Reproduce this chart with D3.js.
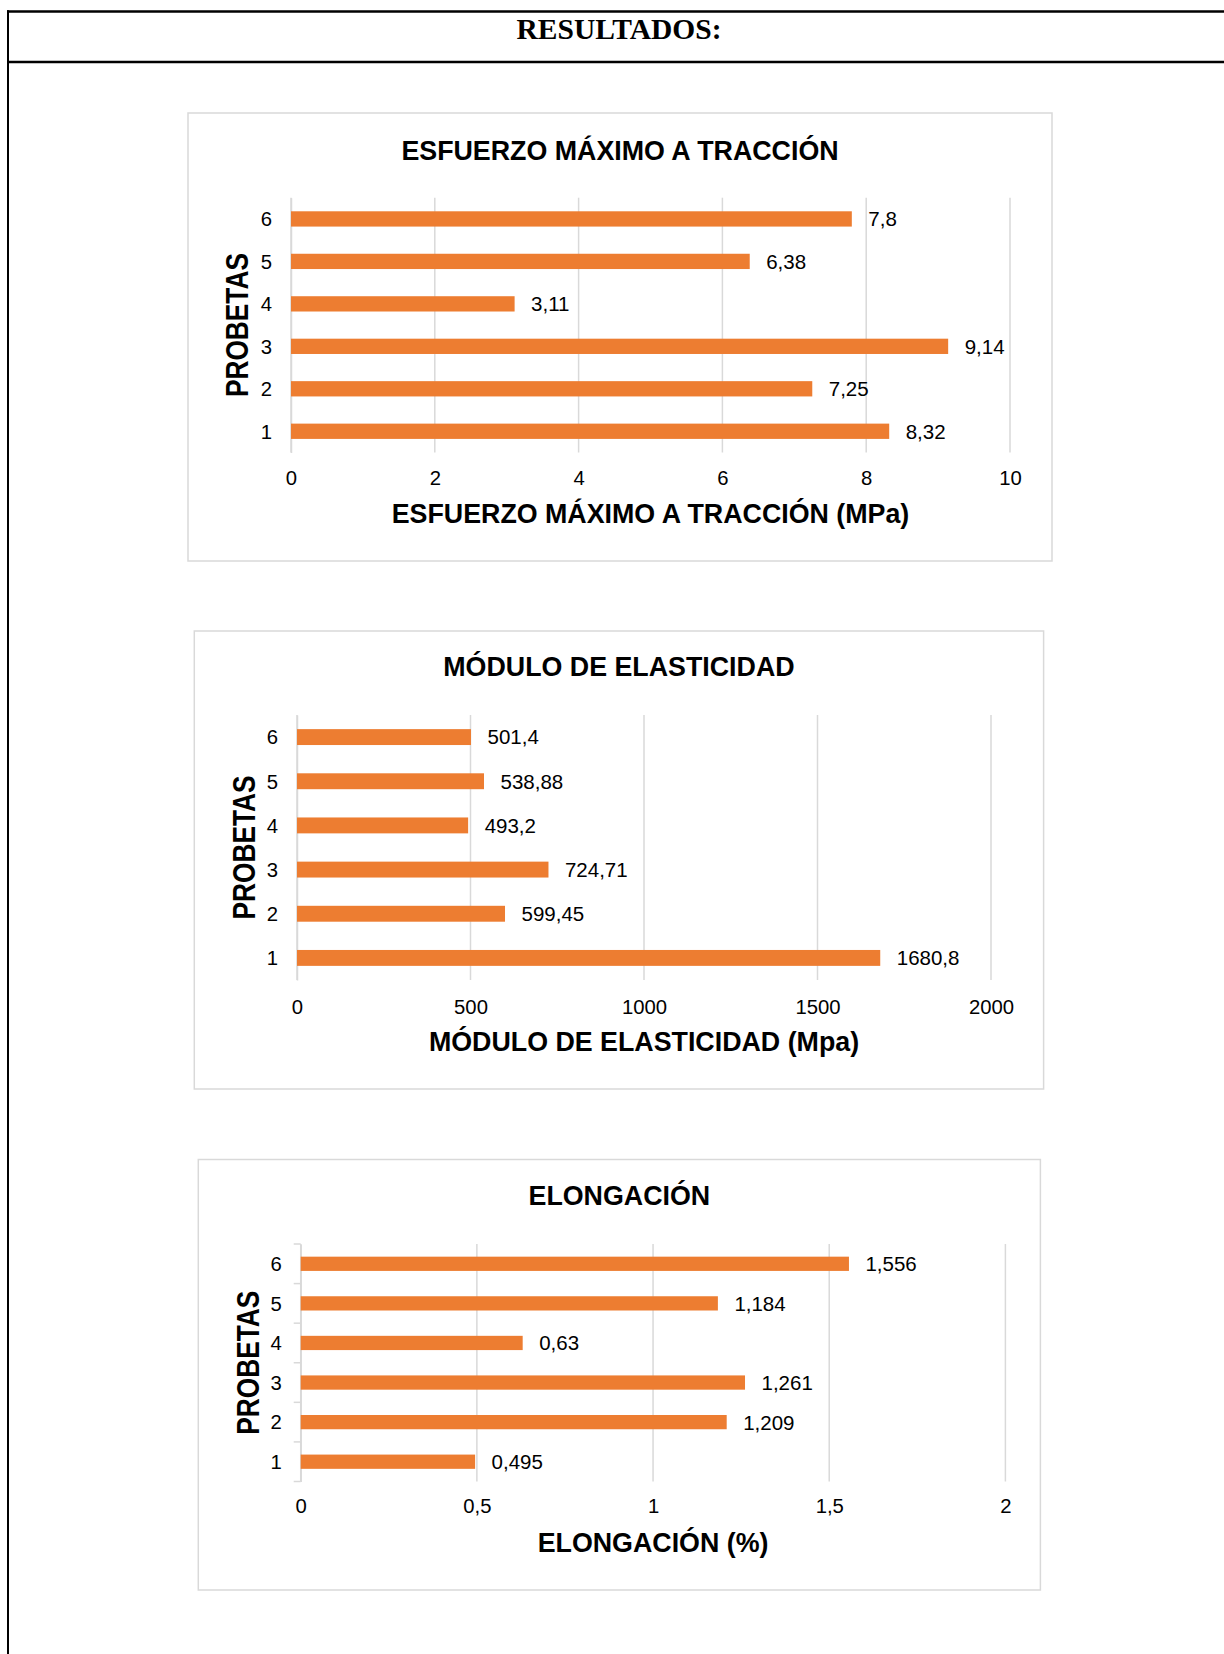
<!DOCTYPE html>
<html>
<head>
<meta charset="utf-8">
<script src="https://cdnjs.cloudflare.com/ajax/libs/d3/7.8.5/d3.min.js"></script>
<style>
  html, body { margin: 0; padding: 0; background: #ffffff; }
  svg { display: block; }
</style>
</head>
<body>
<script>
// ---------------- DATA ----------------
const categories = ["1", "2", "3", "4", "5", "6"];
const esfuerzoValues = [8.32, 7.25, 9.14, 3.11, 6.38, 7.8];
const moduloValues = [1680.8, 599.45, 724.71, 493.2, 538.88, 501.4];
const elongacionValues = [0.495, 1.209, 1.261, 0.63, 1.184, 1.556];
const esfuerzoTicks = [0, 2, 4, 6, 8, 10];
const moduloTicks = [0, 500, 1000, 1500, 2000];
const elongacionTicks = [0, 0.5, 1, 1.5, 2];
const headerText = "RESULTADOS:";
const chartTitles = ["ESFUERZO MÁXIMO A TRACCIÓN", "MÓDULO DE ELASTICIDAD", "ELONGACIÓN"];
const xAxisTitles = ["ESFUERZO MÁXIMO A TRACCIÓN (MPa)", "MÓDULO DE ELASTICIDAD (Mpa)", "ELONGACIÓN (%)"];
const yAxisTitle = "PROBETAS";

// ---------------- LAYOUT ----------------
const W = 1224, H = 1654;
const orange = "#ED7D31";
const gridColor = "#d9d9d9";
const sans = "'Liberation Sans', Arial, sans-serif";
const serif = "'Liberation Serif', 'Times New Roman', serif";
const fmt = v => String(v).replace(".", ",");

const charts = [
  { values: esfuerzoValues, ticks: esfuerzoTicks, title: chartTitles[0], xTitle: xAxisTitles[0],
    box: [188, 113, 1052, 561], plotX: [291, 1010], plotY: [197.7, 452.5],
    titleY: 150, tickY: 478, xTitleY: 513, yTitleX: 236.7, axisTicks: false },
  { values: moduloValues, ticks: moduloTicks, title: chartTitles[1], xTitle: xAxisTitles[1],
    box: [194.3, 631, 1043.6, 1089], plotX: [297, 991], plotY: [715, 980],
    titleY: 666.7, tickY: 1006.7, xTitleY: 1041.7, yTitleX: 244, axisTicks: false },
  { values: elongacionValues, ticks: elongacionTicks, title: chartTitles[2], xTitle: xAxisTitles[2],
    box: [198.3, 1159.5, 1040.4, 1590], plotX: [300.7, 1005.4], plotY: [1244, 1481.5],
    titleY: 1195.7, tickY: 1506, xTitleY: 1542.7, yTitleX: 248, axisTicks: true }
];

const svg = d3.select("body").append("svg")
  .attr("width", W).attr("height", H)
  .attr("viewBox", `0 0 ${W} ${H}`);

svg.append("rect").attr("width", W).attr("height", H).attr("fill", "#fff");

// ---------------- PAGE FRAME ----------------
svg.append("line").attr("x1", 8).attr("x2", 8).attr("y1", 10.3).attr("y2", H)
  .attr("stroke", "#000").attr("stroke-width", 2);
svg.append("line").attr("x1", 7).attr("x2", W).attr("y1", 11.5).attr("y2", 11.5)
  .attr("stroke", "#000").attr("stroke-width", 2.5);
svg.append("line").attr("x1", 7).attr("x2", W).attr("y1", 62).attr("y2", 62)
  .attr("stroke", "#000").attr("stroke-width", 2.5);
svg.append("text").attr("x", 619).attr("y", 38.5)
  .attr("text-anchor", "middle")
  .attr("font-family", serif).attr("font-weight", "bold").attr("font-size", 29.5)
  .attr("fill", "#000").text(headerText);

// ---------------- CHARTS ----------------
charts.forEach(c => {
  const g = svg.append("g");
  const [bx0, by0, bx1, by1] = c.box;
  g.append("rect").attr("x", bx0).attr("y", by0)
    .attr("width", bx1 - bx0).attr("height", by1 - by0)
    .attr("fill", "#fff").attr("stroke", gridColor).attr("stroke-width", 1.5);

  const x = d3.scaleLinear()
    .domain([c.ticks[0], c.ticks[c.ticks.length - 1]])
    .range(c.plotX);
  const y = d3.scaleBand()
    .domain(categories.slice().reverse())
    .range(c.plotY)
    .paddingInner(0.64).paddingOuter(0.32);

  // gridlines
  g.append("g").selectAll("line").data(c.ticks).join("line")
    .attr("x1", d => x(d)).attr("x2", d => x(d))
    .attr("y1", c.plotY[0]).attr("y2", c.plotY[1])
    .attr("stroke", gridColor).attr("stroke-width", 1.5);

  // category axis (left)
  const yAxis = d3.axisLeft(y).tickSize(0).tickPadding(19);
  const ya = g.append("g").attr("transform", `translate(${c.plotX[0]},0)`).call(yAxis);
  ya.select(".domain").attr("stroke", gridColor).attr("stroke-width", 1.5);
  ya.selectAll("text").attr("font-family", sans).attr("font-size", 20.3).attr("fill", "#000")
    .attr("dy", "0.36em");
  if (c.axisTicks) {
    const step = y.step();
    const bounds = d3.range(categories.length + 1).map(i => c.plotY[0] + i * step);
    g.append("g").selectAll("line").data(bounds).join("line")
      .attr("x1", c.plotX[0] - 7).attr("x2", c.plotX[0])
      .attr("y1", d => d).attr("y2", d => d)
      .attr("stroke", gridColor).attr("stroke-width", 1.5);
  }

  // value axis labels (bottom)
  const xAxis = d3.axisBottom(x).tickValues(c.ticks).tickSize(0).tickFormat(fmt);
  const xa = g.append("g").attr("transform", `translate(0,${c.tickY})`).call(xAxis);
  xa.select(".domain").remove();
  xa.selectAll("text").attr("font-family", sans).attr("font-size", 20.3).attr("fill", "#000")
    .attr("y", 0).attr("dy", "0.36em");

  // bars
  const data = categories.map((cat, i) => ({ cat, v: c.values[i] }));
  g.append("g").selectAll("rect").data(data).join("rect")
    .attr("x", x(0)).attr("y", d => y(d.cat))
    .attr("width", d => x(d.v) - x(0)).attr("height", y.bandwidth())
    .attr("fill", orange);

  // data labels
  g.append("g").selectAll("text").data(data).join("text")
    .attr("x", d => x(d.v) + 16.5)
    .attr("y", d => y(d.cat) + y.bandwidth() / 2)
    .attr("dy", "0.36em")
    .attr("font-family", sans).attr("font-size", 20.5).attr("fill", "#000")
    .text(d => fmt(d.v));

  // chart title
  g.append("text").attr("x", (bx0 + bx1) / 2).attr("y", c.titleY).attr("dy", "0.36em")
    .attr("text-anchor", "middle")
    .attr("font-family", sans).attr("font-weight", "bold").attr("font-size", 26.8)
    .attr("fill", "#000").text(c.title);

  // x axis title
  g.append("text").attr("x", (c.plotX[0] + c.plotX[1]) / 2).attr("y", c.xTitleY).attr("dy", "0.36em")
    .attr("text-anchor", "middle")
    .attr("font-family", sans).attr("font-weight", "bold").attr("font-size", 26.8)
    .attr("fill", "#000").text(c.xTitle);

  // y axis title (rotated)
  const cy = (c.plotY[0] + c.plotY[1]) / 2;
  g.append("text")
    .attr("transform", `translate(${c.yTitleX + 0.358 * 32},${cy}) rotate(-90)`)
    .attr("text-anchor", "middle")
    .attr("font-family", sans).attr("font-weight", "bold").attr("font-size", 32)
    .attr("textLength", 144).attr("lengthAdjust", "spacingAndGlyphs")
    .attr("fill", "#000").text(yAxisTitle);
});
</script>
</body>
</html>
